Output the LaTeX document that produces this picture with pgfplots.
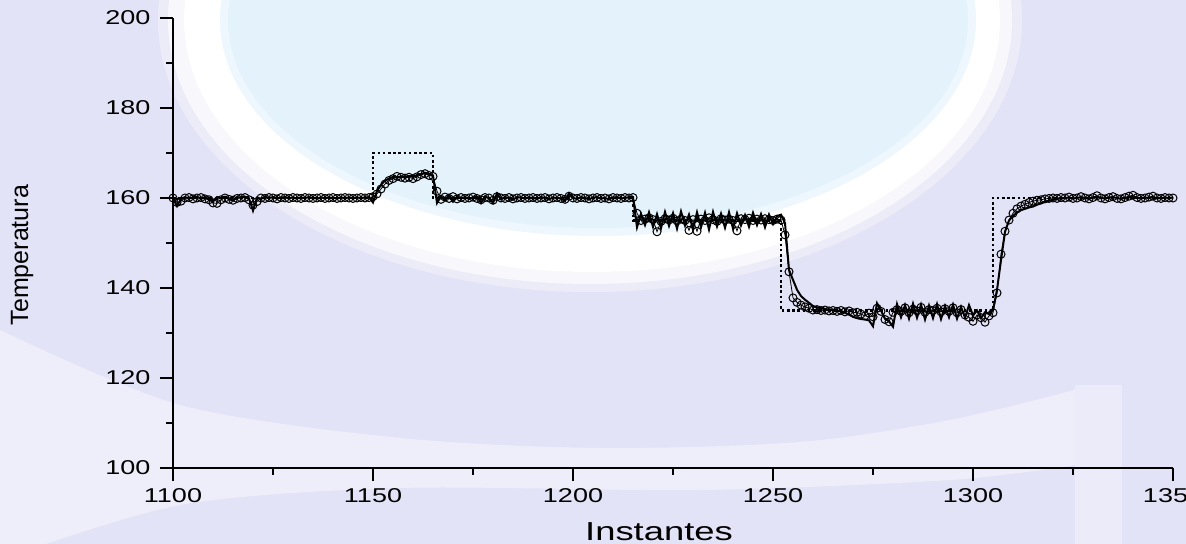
\documentclass[border=0pt]{standalone}
\usepackage{fontspec}
\setmainfont{Liberation Sans}
\usepackage{pgfplots}
\usepackage{pgfplotstable}
\pgfplotsset{compat=1.18}
\definecolor{bgLav}{HTML}{E3E3F7}
\definecolor{bgBlue}{HTML}{E3F2FB}

% t = instante, s = saida (linha cheia), c = modelo (circulos)
\pgfplotstableread{
t s c
1100 160.0 160.0
1101 158.2 159.0
1102 159.8 159.3
1103 160.2 160.0
1104 159.9 160.1
1105 160.1 159.8
1106 160.3 160.0
1107 159.8 160.1
1108 160.2 159.8
1109 159.7 159.6
1110 159.3 158.9
1111 160.2 158.8
1112 159.9 159.6
1113 160.3 160.0
1114 159.8 159.7
1115 159.4 159.5
1116 160.2 159.9
1117 160.1 160.0
1118 160.3 160.1
1119 159.9 159.6
1120 157.2 158.4
1121 160.1 159.2
1122 159.8 160.0
1123 160.3 159.9
1124 160.0 160.1
1125 160.2 160.0
1126 159.9 159.8
1127 160.1 160.1
1128 160.2 160.0
1129 160.0 159.9
1130 160.1 160.1
1131 159.9 160.0
1132 160.1 159.9
1133 160.0 160.1
1134 160.2 160.0
1135 160.0 159.9
1136 159.9 160.0
1137 160.1 160.1
1138 160.0 159.9
1139 160.1 160.0
1140 160.0 160.1
1141 159.9 159.9
1142 160.1 160.0
1143 160.0 160.1
1144 160.1 160.0
1145 160.0 159.9
1146 160.1 160.0
1147 160.0 160.1
1148 160.1 160.0
1149 160.2 160.1
1150 159.0 160.3
1151 161.6 160.9
1152 162.9 162.0
1153 163.9 163.1
1154 164.3 163.9
1155 164.7 164.3
1156 164.5 164.8
1157 164.8 164.6
1158 164.6 164.4
1159 164.9 164.6
1160 164.7 164.3
1161 165.1 164.7
1162 165.3 165.2
1163 165.6 165.4
1164 165.3 165.0
1165 165.0 164.8
1166 158.9 161.5
1167 160.4 159.7
1168 159.5 160.2
1169 160.7 159.9
1170 159.2 160.3
1171 160.3 159.8
1172 159.9 160.1
1173 160.2 159.9
1174 159.8 160.0
1175 160.1 160.2
1176 160.3 159.9
1177 158.9 159.6
1178 160.4 160.1
1179 159.9 160.0
1180 158.9 159.5
1181 161.0 160.3
1182 159.7 160.0
1183 160.2 159.9
1184 160.0 160.1
1185 159.6 159.8
1186 160.2 160.0
1187 160.1 160.1
1188 159.9 159.9
1189 160.1 160.0
1190 160.0 160.1
1191 159.8 159.9
1192 160.2 160.0
1193 160.0 160.1
1194 159.7 159.8
1195 160.1 160.0
1196 160.0 160.1
1197 159.9 159.9
1198 159.3 159.7
1199 161.0 160.4
1200 160.0 160.0
1201 159.8 159.9
1202 160.2 160.1
1203 160.0 160.0
1204 159.7 159.8
1205 160.1 160.0
1206 160.2 160.1
1207 159.9 159.9
1208 160.0 160.0
1209 159.7 159.8
1210 160.1 160.1
1211 160.2 160.0
1212 159.9 159.9
1213 160.0 160.1
1214 160.2 160.0
1215 160.2 160.1
1216 153.5 156.6
1217 156.5 155.0
1218 154.0 155.3
1219 156.8 155.6
1220 153.6 155.2
1221 156.4 152.5
1222 153.3 154.8
1223 156.9 155.4
1224 153.8 155.1
1225 156.6 155.5
1226 153.2 154.9
1227 157.0 155.3
1228 153.9 155.0
1229 156.3 152.8
1230 153.1 155.2
1231 156.8 152.6
1232 153.5 155.3
1233 156.7 155.0
1234 153.0 155.6
1235 156.9 155.2
1236 153.7 154.8
1237 156.5 155.4
1238 153.4 155.1
1239 156.8 155.3
1240 153.2 155.0
1241 156.6 152.7
1242 153.9 155.4
1243 156.2 155.2
1244 153.6 155.5
1245 156.7 155.0
1246 154.0 155.3
1247 156.4 155.1
1248 153.5 155.4
1249 156.3 155.2
1250 154.2 155.0
1251 156.0 155.3
1252 156.3 155.1
1253 154.4 151.8
1254 144.0 143.6
1255 141.8 137.8
1256 139.6 136.8
1257 138.2 136.2
1258 137.4 135.8
1259 136.7 135.5
1260 136.0 135.1
1261 135.7 135.2
1262 135.5 135.0
1263 135.3 135.1
1264 135.2 134.9
1265 135.1 135.0
1266 135.0 134.8
1267 134.8 135.0
1268 134.5 134.7
1269 134.1 134.9
1270 133.6 134.5
1271 133.3 134.6
1272 133.1 134.2
1273 133.0 133.8
1274 132.8 134.4
1275 131.5 133.6
1276 136.6 135.5
1277 135.0 134.8
1278 133.2 133.0
1279 132.6 132.5
1280 131.4 134.6
1281 136.4 135.2
1282 133.5 134.8
1283 136.2 135.6
1284 133.2 134.5
1285 136.5 135.3
1286 133.4 134.9
1287 136.3 135.7
1288 133.0 134.6
1289 136.1 135.2
1290 133.3 135.0
1291 136.4 135.5
1292 133.1 134.7
1293 136.0 135.4
1294 133.5 134.8
1295 136.3 135.6
1296 133.2 134.5
1297 135.8 135.2
1298 133.4 134.0
1299 136.2 133.5
1300 133.9 132.6
1301 135.0 134.0
1302 133.3 133.4
1303 134.6 132.4
1304 134.2 133.8
1305 135.1 134.5
1306 139.6 138.9
1307 146.2 147.5
1308 152.5 152.6
1309 155.0 155.1
1310 156.0 156.6
1311 156.8 157.6
1312 157.3 158.2
1313 157.6 158.6
1314 157.9 159.0
1315 158.1 159.3
1316 158.5 159.5
1317 158.8 159.6
1318 159.2 159.8
1319 159.4 159.9
1320 159.6 160.0
1321 159.8 159.9
1322 159.9 160.1
1323 160.0 160.0
1324 160.1 160.2
1325 159.9 159.9
1326 160.0 160.0
1327 160.2 160.3
1328 160.0 160.0
1329 159.8 159.8
1330 160.1 160.1
1331 160.3 160.5
1332 160.0 160.0
1333 159.9 159.8
1334 160.1 160.1
1335 160.2 160.3
1336 160.0 159.9
1337 159.8 159.8
1338 160.0 160.1
1339 160.2 160.4
1340 160.3 160.6
1341 160.0 160.1
1342 159.9 159.9
1343 160.1 160.0
1344 160.0 160.2
1345 160.2 160.4
1346 159.9 160.0
1347 160.0 159.9
1348 160.1 160.1
1349 160.0 160.0
1350 160.1 160.0
}\resp

\begin{document}
\begin{tikzpicture}
\useasboundingbox (0,0) rectangle (593pt,272pt);
% fundo (marca d'agua), em pixels da imagem
\begin{scope}[x=0.5pt,y=-0.5pt,yshift=272pt]
  \fill[bgLav] (0,0) rectangle (1186,544);
  \fill[white, opacity=0.4] plot[smooth] coordinates {(0,330)(180,405)(400,438)(600,448)(800,442)(950,420)(1075,390)}
    -- (1075,465) -- plot[smooth] coordinates {(1075,465)(950,480)(700,490)(400,488)(180,505)(0,560)} -- cycle;
  \fill[white, opacity=0.3] (1075,385) rectangle (1122,544);
  \fill[white, opacity=0.35] (590,20) ellipse [x radius=216pt, y radius=136pt];
  \fill[white, opacity=0.6] (590,20) ellipse [x radius=211pt, y radius=132pt];
  \fill[white] (592,20) ellipse [x radius=204pt, y radius=126pt];
  \fill[bgBlue!60!white] (598,20) ellipse [x radius=189pt, y radius=108pt];
  \fill[bgBlue] (598,20) ellipse [x radius=185pt, y radius=104pt];
\end{scope}

\begin{axis}[
  at={(86.5pt,38pt)}, anchor=south west,
  scale only axis, width=500pt, height=225pt,
  xmin=1100, xmax=1350, ymin=100, ymax=200,
  axis x line=bottom, axis y line=left,
  axis line style={-, line width=1.2pt},
  xtick={1100,1150,...,1350}, ytick={100,120,...,200},
  minor x tick num=1, minor y tick num=1,
  tick align=outside, major tick length=6.5pt, minor tick length=3.5pt,
  tick style={line width=1pt, black},
  ticklabel style={font=\fontsize{10}{10}\selectfont, xscale=1.35},
  /pgf/number format/assume math mode=true,
  /pgf/number format/set thousands separator={},
  xlabel={Instantes}, ylabel={Temperatura},
  xlabel style={font=\fontsize{13}{14}\selectfont, xscale=1.4,
    at={(axis description cs:0.486,-0.142)}, anchor=center},
  ylabel style={font=\fontsize{12.5}{14}\selectfont,
    at={(axis description cs:-0.151,0.473)}, anchor=center},
]
\addplot[black, line width=1.3pt, dash pattern=on 1.3pt off 1.3pt]
  coordinates {(1100,160)(1150,160)(1150,170)(1165,170)(1165,160)(1215,160)
               (1215,155)(1252,155)(1252,135)(1305,135)(1305,160)(1350,160)};
\addplot[black, line width=1pt] table[x=t, y=s] {\resp};
\addplot[black, line width=0.4pt, mark=o, mark size=2pt,
  mark options={line width=0.5pt}] table[x=t, y=c] {\resp};
\end{axis}
\end{tikzpicture}
\end{document}
